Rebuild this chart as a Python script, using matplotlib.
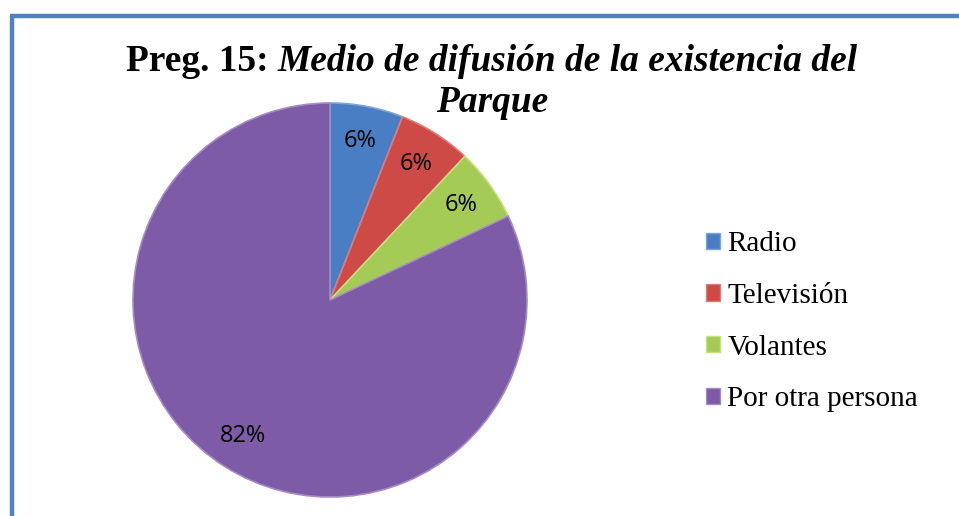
import matplotlib
matplotlib.use("Agg")
import matplotlib.pyplot as plt
from matplotlib.patches import Rectangle
from matplotlib.lines import Line2D
import numpy as np

categories = ["Radio", "Televisión", "Volantes", "Por otra persona"]
values = [6, 6, 6, 82]
pct_labels = ["6%", "6%", "6%", "82%"]
colors = ["#4A7EC4", "#CD4A47", "#A3CB56", "#7E5BA6"]
edge_colors = ["#7AA5DC", "#E07A77", "#C4E27F", "#A58BC6"]

W, H = 959, 516
fig = plt.figure(figsize=(W / 100, H / 100), dpi=100)
fig.patch.set_facecolor("white")

# frame (top and left edges visible)
fig.add_artist(Line2D([12 / W, 12 / W], [0, 1 - 15.5 / H], transform=fig.transFigure,
                      color="#4F81BD", lw=3.2, solid_capstyle="butt"))
fig.add_artist(Line2D([10.4 / W, 1], [1 - 15.5 / H, 1 - 15.5 / H], transform=fig.transFigure,
                      color="#4F81BD", lw=3.2, solid_capstyle="butt"))

cx, cy, r = 330, 300, 197
ax = fig.add_axes([(cx - r) / W, (H - cy - r) / H, 2 * r / W, 2 * r / H])
wedges, texts = ax.pie(values, colors=colors, startangle=90, counterclock=False,
                       radius=1.0, labels=None,
                       wedgeprops=dict(linewidth=1.2, edgecolor="white"))
for w, ec in zip(wedges, edge_colors):
    w.set_edgecolor(ec)
ax.set_xlim(-1, 1)
ax.set_ylim(-1, 1)
ax.set_aspect("equal")
ax.axis("off")

theta = 90.0
total = float(sum(values))
for v, lab in zip(values, pct_labels):
    span = 360.0 * v / total
    mid = np.deg2rad(theta - span / 2)
    theta -= span
    ax.text(0.82 * np.cos(mid), 0.82 * np.sin(mid), lab, ha="center", va="center",
            fontsize=17, family=["Open Sans", "DejaVu Sans"], color="black")

# Title with mixed styles
fig.canvas.draw()
renderer = fig.canvas.get_renderer()
tfont = ["Liberation Serif", "DejaVu Serif"]
tsize = 26.9
t1 = fig.text(0, 1 - 71 / H, "Preg. 15: ", fontsize=tsize, fontweight="bold", family=tfont)
t2 = fig.text(0, 1 - 71 / H, "Medio de difusión de la existencia del", fontsize=tsize,
              fontweight="bold", style="italic", family=tfont)
w1 = t1.get_window_extent(renderer).width
w2 = t2.get_window_extent(renderer).width
xc = 492
x0 = xc - (w1 + w2) / 2
t1.set_x(x0 / W)
t2.set_x((x0 + w1) / W)
fig.text(xc / W, 1 - 112 / H, "Parque", fontsize=tsize, fontweight="bold", style="italic",
         family=tfont, ha="center")

handles = [Rectangle((0, 0), 1, 1, facecolor=c, edgecolor=e, lw=1) for c, e in zip(colors, edge_colors)]
leg = fig.legend(handles, categories, loc="upper left", bbox_to_anchor=(680 / W, 1 - 205 / H),
                 frameon=False, prop={"family": tfont, "size": 21},
                 handlelength=0.48, handleheight=0.48, handletextpad=0.24, labelspacing=0.88)

fig.savefig("out.png", dpi=100)
